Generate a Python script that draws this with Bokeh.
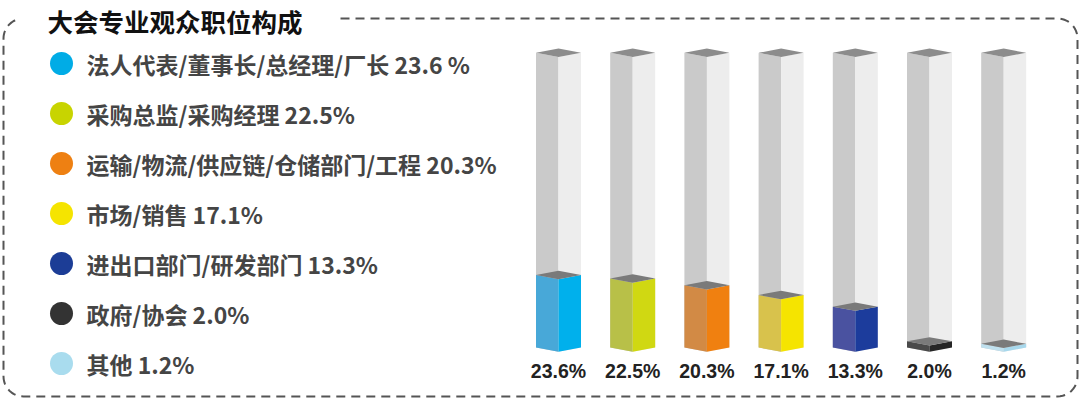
import math
from bokeh.plotting import figure
from bokeh.models import Range1d
from bokeh.core.properties import value
from bokeh.embed import file_html
from bokeh.resources import INLINE

# ---- data ----
title = "大会专业观众职位构成"
categories = ["法人代表/董事长/总经理/厂长", "采购总监/采购经理", "运输/物流/供应链/仓储部门/工程",
              "市场/销售", "进出口部门/研发部门", "政府/协会", "其他"]
values = [23.6, 22.5, 20.3, 17.1, 13.3, 2.0, 1.2]
legend_value_text = ["23.6 %", "22.5%", "20.3%", "17.1%", "13.3%", "2.0%", "1.2%"]
bar_labels = ["23.6%", "22.5%", "20.3%", "17.1%", "13.3%", "2.0%", "1.2%"]
legend_colors = ["#00ace6", "#c8d400", "#ee8012", "#f5e400", "#1c3d96", "#333333", "#a9dcee"]
face_right = ["#00b0ec", "#d0d812", "#f08010", "#f5e400", "#1c3c9c", "#262626", "#a8d8ec"]
face_left = ["#48a8d8", "#b8c048", "#d28a45", "#d8c24c", "#4a52a0", "#4a4a4a", "#bfe0ee"]
track_max = 96.0  # height of the grey background column (same scale as values)

W, H = 1080, 400
p = figure(width=W, height=H, x_range=Range1d(0, W), y_range=Range1d(0, H),
           toolbar_location=None, output_backend="svg", min_border=0,
           x_axis_location=None, y_axis_location=None)
p.grid.visible = False
p.outline_line_color = None
p.background_fill_color = "white"
p.border_fill_color = "white"

def fx(px):
    return px
def fy(py):
    return H - py

# ---- bar coordinate system (index / percent) ----
pitch = 74.2       # px per category
x0 = fx(558)       # px of first category centre
ppu = 3.07         # px per percent
y0 = fy(347)       # px of 0 %
p.extra_x_ranges = {"bx": Range1d(-x0 / pitch, (W - x0) / pitch)}
p.extra_y_ranges = {"pct": Range1d(-y0 / ppu, (H - y0) / ppu)}

hw = 22.5 / pitch   # half bar width in index units
d = 4.2 / ppu       # diamond depth in percent units

def prism(c, v):
    left = ([c - hw, c, c, c - hw], [0, -d, v - d, v])
    right = ([c, c + hw, c + hw, c], [-d, 0, v, v - d])
    top = ([c - hw, c, c + hw, c], [v, v + d, v, v - d])
    return left, right, top

idx = list(range(len(values)))

# grey tracks
gl, gr, gt = [], [], []
for i in idx:
    l, r, t = prism(i, track_max)
    gl.append(l); gr.append(r); gt.append(t)
p.patches([a[0] for a in gl], [a[1] for a in gl], fill_color="#cacaca", line_color=None,
          x_range_name="bx", y_range_name="pct")
p.patches([a[0] for a in gr], [a[1] for a in gr], fill_color="#ededed", line_color=None,
          x_range_name="bx", y_range_name="pct")
p.patches([a[0] for a in gt], [a[1] for a in gt], fill_color="#8c8c8c", line_color=None,
          x_range_name="bx", y_range_name="pct")

# coloured blocks
cl, cr, ct = [], [], []
for i, v in zip(idx, values):
    l, r, t = prism(i, v)
    cl.append(l); cr.append(r); ct.append(t)
p.patches([a[0] for a in cl], [a[1] for a in cl], fill_color=face_left, line_color=None,
          x_range_name="bx", y_range_name="pct")
p.patches([a[0] for a in cr], [a[1] for a in cr], fill_color=face_right, line_color=None,
          x_range_name="bx", y_range_name="pct")
p.patches([a[0] for a in ct], [a[1] for a in ct], fill_color="#7a7a7a", line_color=None,
          x_range_name="bx", y_range_name="pct")

# labels under bars
p.text(x=idx, y=[-7.6] * len(idx), text=bar_labels, x_range_name="bx", y_range_name="pct",
       text_align="center", text_baseline="middle", text_font=value("Liberation Sans"),
       text_font_style="bold", text_font_size="19.5px", text_color="#222222")

# ---- legend ----
row_y = [fy(63 + 50 * i) for i in range(len(categories))]
p.scatter(x=[fx(61)] * len(categories), y=row_y, size=23, marker="circle",
          fill_color=legend_colors, line_color=None)
legend_text = [c + " " + t for c, t in zip(categories, legend_value_text)]
p.text(x=[fx(86)] * len(categories), y=row_y, text=legend_text, text_align="left",
       text_baseline="middle", text_font=value("Noto Sans CJK SC"), text_font_style="bold",
       text_font_size="23px", text_color="#454545")

# ---- title ----
p.text(x=[fx(47)], y=[fy(20)], text=[title], text_align="left", text_baseline="middle",
       text_font=value("Noto Sans CJK SC"), text_font_style="bold", text_font_size="25.5px",
       text_color="#111111")

# ---- dashed rounded frame ----
L, R, T, B = fx(3), fx(1077), fy(18), fy(396)
r = 20
def arc(cx, cy, a0, a1, n=12):
    return ([cx + r * math.cos(math.radians(a0 + (a1 - a0) * k / n)) for k in range(n + 1)],
            [cy + r * math.sin(math.radians(a0 + (a1 - a0) * k / n)) for k in range(n + 1)])
xs, ys = [fx(340)], [T]
ax, ay = arc(R - r, T - r, 90, 0); xs += ax; ys += ay
ax, ay = arc(R - r, B + r, 0, -90); xs += ax; ys += ay
ax, ay = arc(L + r, B + r, 270, 180); xs += ax; ys += ay
ax, ay = arc(L + r, T - r, 180, 110); xs += ax; ys += ay
p.line(xs, ys, line_color="#555555", line_width=2, line_dash="9 6")

open("out.html", "w").write(file_html(p, INLINE))
